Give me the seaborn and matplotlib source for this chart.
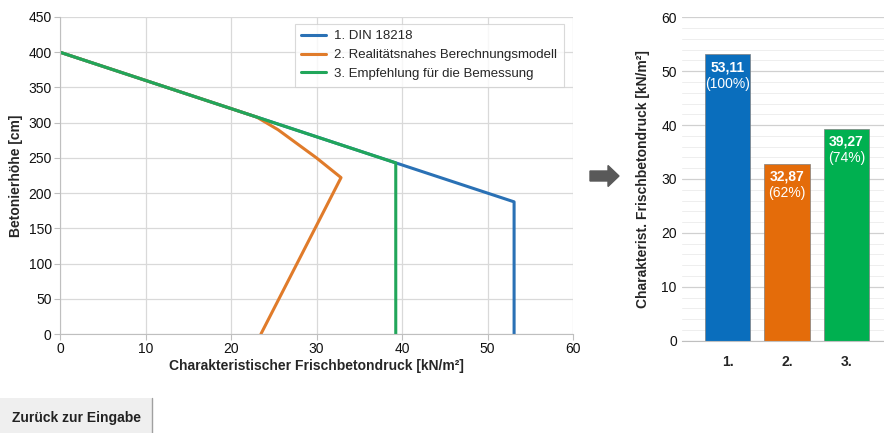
import pandas as pd
import numpy as np
import seaborn as sns
import matplotlib.pyplot as plt
from matplotlib.patches import FancyArrow, Rectangle

## Data
# Linien: Frischbetondruck [kN/m²] über Betonierhöhe [cm]
din_druck = [0.0, 53.11, 53.11]
din_hoehe = [400.0, 187.6, 0.0]
real_druck = [0.0, 23.0, 25.5, 30.0, 32.87, 23.5]
real_hoehe = [400.0, 308.0, 290.0, 250.0, 222.0, 0.0]
empf_druck = [0.0, 39.27, 39.27]
empf_hoehe = [400.0, 242.9, 0.0]
modelle = ["1. DIN 18218", "2. Realitätsnahes Berechnungsmodell", "3. Empfehlung für die Bemessung"]

# Balken
bar_kat = ["1.", "2.", "3."]
bar_wert = [53.11, 32.87, 39.27]
bar_text = ["53,11", "32,87", "39,27"]
bar_proz = ["(100%)", "(62%)", "(74%)"]

line_cols = ["#2a71b5", "#e07b2a", "#21a65a"]
bar_cols = ["#0a6ebd", "#e46c0a", "#00b050"]

sns.set_style("white")
plt.rcParams['font.family'] = ['Liberation Sans', 'DejaVu Sans']

df = pd.concat([
    pd.DataFrame({'druck': din_druck, 'hoehe': din_hoehe, 'modell': modelle[0]}),
    pd.DataFrame({'druck': real_druck, 'hoehe': real_hoehe, 'modell': modelle[1]}),
    pd.DataFrame({'druck': empf_druck, 'hoehe': empf_hoehe, 'modell': modelle[2]}),
], ignore_index=True)

fig = plt.figure(figsize=(8.84, 4.33), dpi=100)

## Linke Grafik
ax1 = fig.add_axes([60/884, 99/433, 513/884, 317/433])
sns.lineplot(data=df, x='druck', y='hoehe', hue='modell', sort=False, estimator=None,
             palette=line_cols, linewidth=2.2, ax=ax1)
ax1.set_xlim(0, 60)
ax1.set_ylim(0, 450)
ax1.set_xticks(range(0, 61, 10))
ax1.set_yticks(range(0, 451, 50))
ax1.grid(True, color='#d9d9d9', linewidth=0.9)
for s in ['top', 'right']:
    ax1.spines[s].set_visible(False)
for s in ['left', 'bottom']:
    ax1.spines[s].set_color('#bfbfbf')
ax1.tick_params(axis='both', labelsize=10, colors='#bfbfbf', labelcolor='#111111',
                length=4, direction='out', left=True, bottom=True, pad=2)
ax1.set_xlabel("Charakteristischer Frischbetondruck [kN/m²]", fontsize=10, fontweight='bold', labelpad=2)
ax1.set_ylabel("Betonierhöhe [cm]", fontsize=10, fontweight='bold', labelpad=4)
leg = ax1.legend(loc='upper right', bbox_to_anchor=(0.995, 1.0), fontsize=9.5, frameon=True,
                 fancybox=False, edgecolor='#d0d0d0', handlelength=1.9, handletextpad=0.6,
                 borderpad=0.5, labelspacing=0.5)
leg.get_frame().set_linewidth(0.8)

## Rechte Grafik
ax2 = fig.add_axes([681.7/884, 92.3/433, 202.3/884, 323.4/433])
sns.barplot(x=bar_kat, y=bar_wert, hue=bar_kat, palette=bar_cols, legend=False, saturation=1,
            width=0.77, edgecolor='#7f7f7f', linewidth=0.5, ax=ax2)
ax2.set_xlim(-0.77, 2.63)
ax2.set_ylim(0, 60)
ax2.set_yticks(range(0, 61, 10))
ax2.set_yticks(range(0, 61, 2), minor=True)
ax2.grid(True, axis='y', which='major', color='#d0d0d0', linewidth=0.9)
ax2.grid(True, axis='y', which='minor', color='#eeeeee', linewidth=0.7)
ax2.set_axisbelow(True)
for s in ['top', 'right', 'left']:
    ax2.spines[s].set_visible(False)
ax2.spines['bottom'].set_color('#bfbfbf')
ax2.tick_params(axis='y', which='both', length=0, labelsize=10, labelcolor='#111111')
ax2.tick_params(axis='x', length=0, labelsize=10, pad=10)
for t in ax2.get_xticklabels():
    t.set_fontweight('bold')
ax2.set_ylabel("Charakterist. Frischbetondruck [kN/m²]", fontsize=10, fontweight='bold', labelpad=8)
for i, (w, t, p) in enumerate(zip(bar_wert, bar_text, bar_proz)):
    ax2.text(i, w - 2.4, t, color='white', ha='center', va='center', fontsize=10, fontweight='bold')
    ax2.text(i, w - 5.4, p, color='white', ha='center', va='center', fontsize=10)

## Pfeil
fig.patches.append(FancyArrow(5.90, 2.57, 0.18, 0, width=0.10, head_width=0.21, head_length=0.11,
                              length_includes_head=False, color='#595959',
                              transform=fig.dpi_scale_trans))

## Button
fig.patches.append(Rectangle((0, 0), 152/884, 35/433, transform=fig.transFigure,
                             facecolor='#efefef', edgecolor='none'))
fig.add_artist(plt.Line2D([152/884, 152/884], [0, 35/433], transform=fig.transFigure,
                          color='#a0a0a0', linewidth=1))
fig.text(76/884, 15/433, "Zurück zur Eingabe", ha='center', va='center',
         fontsize=10, fontweight='bold', color='#222222')

plt.savefig("out.png", dpi=100)
